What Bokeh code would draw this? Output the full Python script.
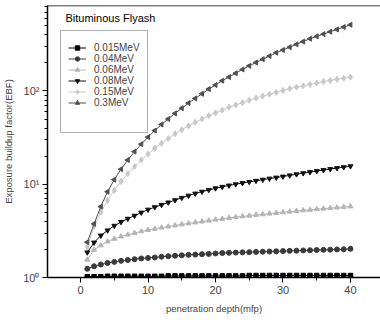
import math
from bokeh.plotting import figure
from bokeh.models import (Legend, LegendItem, BoxAnnotation, Label, Span,
                          SingleIntervalTicker, LogTicker, ColumnDataSource)
from bokeh.embed import file_html
from bokeh.resources import INLINE

depth = list(range(1, 41))

series_names = ["0.015MeV", "0.04MeV", "0.06MeV", "0.08MeV", "0.15MeV", "0.3MeV"]

ebf_0015 = [1.02, 1.02, 1.02, 1.03, 1.03, 1.03, 1.03, 1.03, 1.03, 1.03,
            1.03, 1.03, 1.04, 1.04, 1.04, 1.04, 1.04, 1.04, 1.04, 1.04,
            1.04, 1.04, 1.04, 1.04, 1.05, 1.05, 1.05, 1.05, 1.05, 1.05,
            1.05, 1.05, 1.05, 1.05, 1.05, 1.05, 1.05, 1.05, 1.05, 1.05]
ebf_004 = [1.24, 1.32, 1.38, 1.43, 1.47, 1.51, 1.54, 1.57, 1.60, 1.62,
           1.64, 1.67, 1.69, 1.71, 1.73, 1.75, 1.76, 1.78, 1.79, 1.81,
           1.83, 1.84, 1.85, 1.86, 1.87, 1.88, 1.89, 1.90, 1.91, 1.92,
           1.93, 1.94, 1.95, 1.96, 1.97, 1.98, 1.99, 2.00, 2.01, 2.03]
ebf_006 = [1.55, 1.98, 2.21, 2.43, 2.60, 2.75, 2.88, 3.00, 3.12, 3.23,
           3.33, 3.43, 3.52, 3.61, 3.71, 3.80, 3.89, 3.98, 4.07, 4.17,
           4.26, 4.35, 4.44, 4.52, 4.60, 4.69, 4.76, 4.84, 4.92, 5.00,
           5.08, 5.16, 5.25, 5.32, 5.40, 5.47, 5.55, 5.62, 5.70, 5.78]
ebf_008 = [1.86, 2.37, 2.82, 3.20, 3.59, 3.94, 4.27, 4.60, 4.97, 5.35,
           5.68, 6.01, 6.38, 6.75, 7.15, 7.55, 7.95, 8.33, 8.70, 9.05,
           9.38, 9.70, 10.0, 10.3, 10.6, 10.9, 11.2, 11.5, 11.8, 12.1,
           12.45, 12.8, 13.15, 13.5, 13.85, 14.2, 14.55, 14.9, 15.25, 15.6]
ebf_015 = [2.14, 3.55, 5.0, 6.7, 8.6, 10.7, 13.0, 15.5, 18.2, 21.1,
           24.3, 27.5, 30.9, 34.7, 38.5, 42.2, 46.2, 50.1, 54.3, 58.2,
           62.4, 66.8, 70.8, 75.0, 79.4, 84.1, 88.1, 92.3, 96.6, 101,
           106, 110, 113.5, 117.5, 121.6, 126, 129.7, 133.4, 137, 140.6]
ebf_03 = [2.39, 3.76, 5.75, 8.32, 11.2, 14.5, 18.2, 22.4, 26.9, 32.0,
          37.6, 43.7, 50.1, 57.5, 65.3, 74.1, 83.2, 93.3, 104.7, 116,
          129, 141, 155, 170, 186, 202, 219, 237, 257, 275,
          295, 316, 339, 363, 385, 407, 432, 457, 484, 513]

all_series = [ebf_0015, ebf_004, ebf_006, ebf_008, ebf_015, ebf_03]
colors = ["#000000", "#3a3a3a", "#b4b4b4", "#111111", "#c8c8c8", "#505050"]
markers = ["square", "circle", "triangle", "inverted_triangle", "diamond", "triangle"]
angles = [0.0, 0.0, 0.0, 0.0, 0.0, math.pi / 2]
sizes = [4.5, 5, 5, 5, 6, 5]

FONT = "Liberation Sans"

p = figure(width=380, height=322, y_axis_type="log",
           x_range=(-4.9, 44.45), y_range=(1, 825),
           output_backend="svg", toolbar_location=None,
           min_border_left=47, min_border_right=0,
           min_border_top=5, min_border_bottom=45)
p.grid.visible = False
p.outline_line_color = None
p.background_fill_color = "white"
p.border_fill_color = "white"

items = []
for name, vals, c, m, a, s in zip(series_names, all_series, colors, markers, angles, sizes):
    src = ColumnDataSource(dict(x=depth, y=vals, ang=[a] * len(depth)))
    ln = p.line("x", "y", source=src, line_color=c, line_width=1)
    sc = p.scatter("x", "y", source=src, marker=m, angle="ang", angle_units="rad",
                   size=s, fill_color=c, line_color=c)
    items.append(LegendItem(label=name, renderers=[ln, sc]))

legend = Legend(items=items, location=(21, 169), padding=0, margin=0, spacing=0,
                label_height=11, glyph_height=11, glyph_width=18, label_standoff=8,
                border_line_color=None, background_fill_alpha=0,
                label_text_font=FONT, label_text_font_size="10px")
p.add_layout(legend, "center")

box = BoxAnnotation(left=13, right=100, top=247, bottom=145,
                    left_units="screen", right_units="screen",
                    top_units="screen", bottom_units="screen",
                    fill_alpha=0, line_color="black", line_width=1)
p.add_layout(box)

title = Label(x=18, y=260, x_units="screen", y_units="screen",
              text="Bituminous Flyash", text_font=FONT, text_font_size="11px",
              text_baseline="middle", text_color="black")
p.add_layout(title)

p.add_layout(Span(location=825, dimension="width", line_color="black", line_width=1.5))

xa = p.xaxis[0]
xa.ticker = SingleIntervalTicker(interval=10, num_minor_ticks=2)
xa.axis_label = "penetration depth(mfp)"
ya = p.yaxis[0]
ya.ticker = LogTicker(num_minor_ticks=10)
ya.major_label_overrides = {1: "10\u2070", 10: "10\u00b9", 100: "10\u00b2"}
ya.axis_label = "Exposure buildup factor(EBF)"

for ax in (xa, ya):
    ax.axis_line_width = 1.5
    ax.major_tick_in = 0
    ax.major_tick_out = 5
    ax.minor_tick_in = 0
    ax.minor_tick_out = 3
    ax.major_tick_line_width = 1
    ax.major_label_text_font = FONT
    ax.major_label_text_font_size = "11px"
    ax.axis_label_text_font = FONT
    ax.axis_label_text_font_size = "9.5px"
    ax.axis_label_text_font_style = "normal"
xa.major_label_standoff = 3
xa.axis_label_standoff = 6
ya.major_label_standoff = 3
ya.axis_label_standoff = 6

open("out.html", "w").write(file_html(p, INLINE))
